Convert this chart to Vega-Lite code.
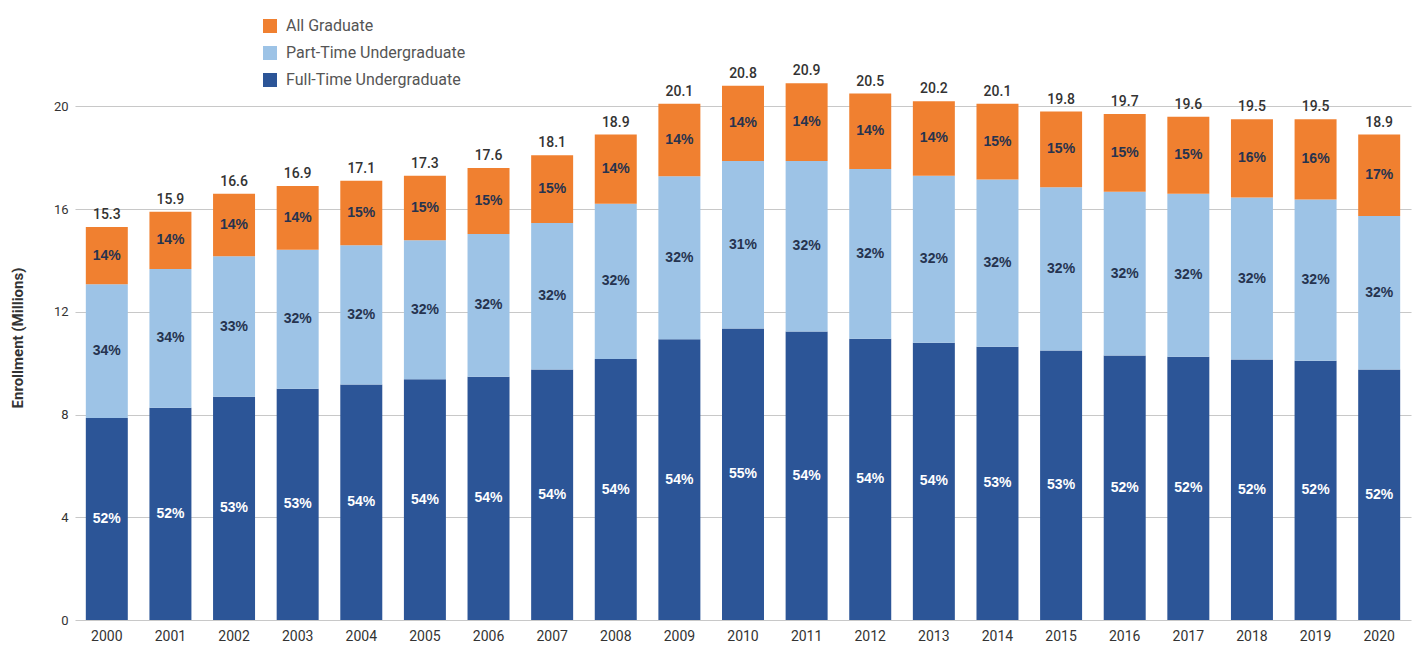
{
  "$schema": "https://vega.github.io/schema/vega-lite/v6.json",
  "width": 1336,
  "height": 565,
  "autosize": {"type": "none"},
  "padding": {"left": 75, "top": 55, "right": 4, "bottom": 32},
  "background": "white",
  "config": {
    "view": {"stroke": null},
    "font": "Roboto",
    "axis": {"labelFont": "Roboto", "titleFont": "Roboto"},
    "legend": {"labelFont": "Roboto"}
  },
  "datasets": {
    "seg": [
      {"year": "2000", "group": "Full-Time Undergraduate", "k": 1, "value": 7.87, "label": "52%"},
      {"year": "2000", "group": "Part-Time Undergraduate", "k": 2, "value": 5.20, "label": "34%"},
      {"year": "2000", "group": "All Graduate", "k": 3, "value": 2.23, "label": "14%"},
      {"year": "2001", "group": "Full-Time Undergraduate", "k": 1, "value": 8.26, "label": "52%"},
      {"year": "2001", "group": "Part-Time Undergraduate", "k": 2, "value": 5.41, "label": "34%"},
      {"year": "2001", "group": "All Graduate", "k": 3, "value": 2.23, "label": "14%"},
      {"year": "2002", "group": "Full-Time Undergraduate", "k": 1, "value": 8.69, "label": "53%"},
      {"year": "2002", "group": "Part-Time Undergraduate", "k": 2, "value": 5.47, "label": "33%"},
      {"year": "2002", "group": "All Graduate", "k": 3, "value": 2.44, "label": "14%"},
      {"year": "2003", "group": "Full-Time Undergraduate", "k": 1, "value": 9.00, "label": "53%"},
      {"year": "2003", "group": "Part-Time Undergraduate", "k": 2, "value": 5.42, "label": "32%"},
      {"year": "2003", "group": "All Graduate", "k": 3, "value": 2.48, "label": "14%"},
      {"year": "2004", "group": "Full-Time Undergraduate", "k": 1, "value": 9.17, "label": "54%"},
      {"year": "2004", "group": "Part-Time Undergraduate", "k": 2, "value": 5.42, "label": "32%"},
      {"year": "2004", "group": "All Graduate", "k": 3, "value": 2.51, "label": "15%"},
      {"year": "2005", "group": "Full-Time Undergraduate", "k": 1, "value": 9.37, "label": "54%"},
      {"year": "2005", "group": "Part-Time Undergraduate", "k": 2, "value": 5.42, "label": "32%"},
      {"year": "2005", "group": "All Graduate", "k": 3, "value": 2.51, "label": "15%"},
      {"year": "2006", "group": "Full-Time Undergraduate", "k": 1, "value": 9.47, "label": "54%"},
      {"year": "2006", "group": "Part-Time Undergraduate", "k": 2, "value": 5.56, "label": "32%"},
      {"year": "2006", "group": "All Graduate", "k": 3, "value": 2.57, "label": "15%"},
      {"year": "2007", "group": "Full-Time Undergraduate", "k": 1, "value": 9.75, "label": "54%"},
      {"year": "2007", "group": "Part-Time Undergraduate", "k": 2, "value": 5.71, "label": "32%"},
      {"year": "2007", "group": "All Graduate", "k": 3, "value": 2.64, "label": "15%"},
      {"year": "2008", "group": "Full-Time Undergraduate", "k": 1, "value": 10.16, "label": "54%"},
      {"year": "2008", "group": "Part-Time Undergraduate", "k": 2, "value": 6.05, "label": "32%"},
      {"year": "2008", "group": "All Graduate", "k": 3, "value": 2.69, "label": "14%"},
      {"year": "2009", "group": "Full-Time Undergraduate", "k": 1, "value": 10.93, "label": "54%"},
      {"year": "2009", "group": "Part-Time Undergraduate", "k": 2, "value": 6.35, "label": "32%"},
      {"year": "2009", "group": "All Graduate", "k": 3, "value": 2.82, "label": "14%"},
      {"year": "2010", "group": "Full-Time Undergraduate", "k": 1, "value": 11.35, "label": "55%"},
      {"year": "2010", "group": "Part-Time Undergraduate", "k": 2, "value": 6.52, "label": "31%"},
      {"year": "2010", "group": "All Graduate", "k": 3, "value": 2.93, "label": "14%"},
      {"year": "2011", "group": "Full-Time Undergraduate", "k": 1, "value": 11.23, "label": "54%"},
      {"year": "2011", "group": "Part-Time Undergraduate", "k": 2, "value": 6.64, "label": "32%"},
      {"year": "2011", "group": "All Graduate", "k": 3, "value": 3.03, "label": "14%"},
      {"year": "2012", "group": "Full-Time Undergraduate", "k": 1, "value": 10.95, "label": "54%"},
      {"year": "2012", "group": "Part-Time Undergraduate", "k": 2, "value": 6.61, "label": "32%"},
      {"year": "2012", "group": "All Graduate", "k": 3, "value": 2.94, "label": "14%"},
      {"year": "2013", "group": "Full-Time Undergraduate", "k": 1, "value": 10.80, "label": "54%"},
      {"year": "2013", "group": "Part-Time Undergraduate", "k": 2, "value": 6.50, "label": "32%"},
      {"year": "2013", "group": "All Graduate", "k": 3, "value": 2.90, "label": "14%"},
      {"year": "2014", "group": "Full-Time Undergraduate", "k": 1, "value": 10.64, "label": "53%"},
      {"year": "2014", "group": "Part-Time Undergraduate", "k": 2, "value": 6.51, "label": "32%"},
      {"year": "2014", "group": "All Graduate", "k": 3, "value": 2.95, "label": "15%"},
      {"year": "2015", "group": "Full-Time Undergraduate", "k": 1, "value": 10.49, "label": "53%"},
      {"year": "2015", "group": "Part-Time Undergraduate", "k": 2, "value": 6.36, "label": "32%"},
      {"year": "2015", "group": "All Graduate", "k": 3, "value": 2.95, "label": "15%"},
      {"year": "2016", "group": "Full-Time Undergraduate", "k": 1, "value": 10.30, "label": "52%"},
      {"year": "2016", "group": "Part-Time Undergraduate", "k": 2, "value": 6.38, "label": "32%"},
      {"year": "2016", "group": "All Graduate", "k": 3, "value": 3.02, "label": "15%"},
      {"year": "2017", "group": "Full-Time Undergraduate", "k": 1, "value": 10.25, "label": "52%"},
      {"year": "2017", "group": "Part-Time Undergraduate", "k": 2, "value": 6.35, "label": "32%"},
      {"year": "2017", "group": "All Graduate", "k": 3, "value": 3.00, "label": "15%"},
      {"year": "2018", "group": "Full-Time Undergraduate", "k": 1, "value": 10.14, "label": "52%"},
      {"year": "2018", "group": "Part-Time Undergraduate", "k": 2, "value": 6.31, "label": "32%"},
      {"year": "2018", "group": "All Graduate", "k": 3, "value": 3.05, "label": "16%"},
      {"year": "2019", "group": "Full-Time Undergraduate", "k": 1, "value": 10.09, "label": "52%"},
      {"year": "2019", "group": "Part-Time Undergraduate", "k": 2, "value": 6.28, "label": "32%"},
      {"year": "2019", "group": "All Graduate", "k": 3, "value": 3.13, "label": "16%"},
      {"year": "2020", "group": "Full-Time Undergraduate", "k": 1, "value": 9.75, "label": "52%"},
      {"year": "2020", "group": "Part-Time Undergraduate", "k": 2, "value": 5.98, "label": "32%"},
      {"year": "2020", "group": "All Graduate", "k": 3, "value": 3.17, "label": "17%"}
    ],
    "totals": [
      {"year": "2000", "total": 15.3}, {"year": "2001", "total": 15.9}, {"year": "2002", "total": 16.6},
      {"year": "2003", "total": 16.9}, {"year": "2004", "total": 17.1}, {"year": "2005", "total": 17.3},
      {"year": "2006", "total": 17.6}, {"year": "2007", "total": 18.1}, {"year": "2008", "total": 18.9},
      {"year": "2009", "total": 20.1}, {"year": "2010", "total": 20.8}, {"year": "2011", "total": 20.9},
      {"year": "2012", "total": 20.5}, {"year": "2013", "total": 20.2}, {"year": "2014", "total": 20.1},
      {"year": "2015", "total": 19.8}, {"year": "2016", "total": 19.7}, {"year": "2017", "total": 19.6},
      {"year": "2018", "total": 19.5}, {"year": "2019", "total": 19.5}, {"year": "2020", "total": 18.9}
    ]
  },
  "encoding": {
    "x": {
      "field": "year",
      "type": "nominal",
      "scale": {"paddingInner": 0.34, "paddingOuter": 0.17},
      "axis": {
        "title": null,
        "labelAngle": 0,
        "domain": false,
        "ticks": false,
        "labelPadding": 9,
        "labelFontSize": 14,
        "labelColor": "#333333"
      }
    }
  },
  "layer": [
    {
      "data": {"name": "seg"},
      "mark": {"type": "bar"},
      "encoding": {
        "y": {
          "field": "value",
          "type": "quantitative",
          "stack": "zero",
          "scale": {"domain": [0, 22], "nice": false},
          "axis": {
            "title": "Enrollment (Millions)",
            "titleFontSize": 15,
            "titleFontWeight": "bold",
            "titleColor": "#333333",
            "titlePadding": 28,
            "values": [0, 4, 8, 12, 16, 20],
            "domain": false,
            "ticks": false,
            "labelPadding": 7,
            "labelFontSize": 13,
            "labelColor": "#333333",
            "gridColor": "#c8c8c8",
            "gridWidth": 1.2
          }
        },
        "order": {"field": "k", "type": "quantitative", "sort": "ascending"},
        "color": {
          "field": "group",
          "type": "nominal",
          "scale": {
            "domain": ["All Graduate", "Part-Time Undergraduate", "Full-Time Undergraduate"],
            "range": ["#F08030", "#9DC3E6", "#2C5597"]
          },
          "legend": {
            "title": null,
            "orient": "none",
            "legendX": 187,
            "legendY": -37,
            "symbolType": "square",
            "symbolSize": 196,
            "symbolStrokeWidth": 0,
            "labelFontSize": 16,
            "labelColor": "#555555",
            "labelOffset": 8,
            "labelLimit": 400,
            "rowPadding": 11
          }
        }
      }
    },
    {
      "data": {"name": "seg"},
      "transform": [
        {"stack": "value", "groupby": ["year"], "sort": [{"field": "k", "order": "ascending"}], "as": ["v0", "v1"]},
        {"calculate": "(datum.v0 + datum.v1) / 2", "as": "labelPos"}
      ],
      "mark": {
        "type": "text",
        "font": "Liberation Sans",
        "fontWeight": "bold",
        "fontSize": 14,
        "baseline": "middle"
      },
      "encoding": {
        "y": {"field": "labelPos", "type": "quantitative"},
        "text": {"field": "label"},
        "color": {
          "condition": {"test": "datum.k == 1", "value": "#ffffff"},
          "value": "#26334f"
        }
      }
    },
    {
      "data": {"name": "totals"},
      "mark": {
        "type": "text",
        "fontSize": 14,
        "fontWeight": 500,
        "color": "#333333",
        "baseline": "bottom",
        "dy": -5
      },
      "encoding": {
        "y": {"field": "total", "type": "quantitative"},
        "text": {"field": "total", "type": "quantitative", "format": ".1f"}
      }
    }
  ]
}
